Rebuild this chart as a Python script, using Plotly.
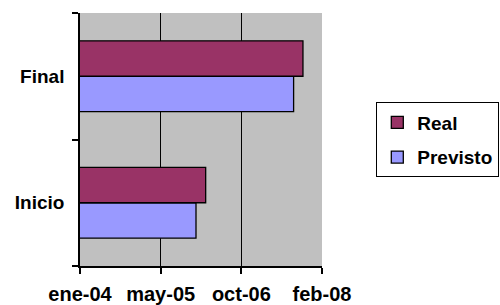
import plotly.graph_objects as go

categories = ["Inicio", "Final"]
real_dates = ["2006-02-27", "2007-10-23"]
previsto_dates = ["2005-12-29", "2007-08-26"]
tick_dates = ["2004-01-10", "2005-05-24", "2006-10-06", "2008-02-18"]
tick_labels = ["ene-04", "may-05", "oct-06", "feb-08"]

FONT = dict(family="Liberation Sans, Arial, sans-serif", size=19, color="black", weight="bold")
FONT_WIDE = dict(family="Liberation Sans, Arial, sans-serif", size=20, color="black", weight="bold")

fig = go.Figure()
fig.add_trace(go.Bar(
    y=categories, x=previsto_dates, orientation="h", name="Previsto",
    marker=dict(color="#9999FF", line=dict(color="black", width=1.3)),
    legendgroup="p", legendrank=2,
))
fig.add_trace(go.Bar(
    y=categories, x=real_dates, orientation="h", name="Real",
    marker=dict(color="#993366", line=dict(color="black", width=1.3)),
    legendgroup="r", legendrank=1,
))

fig.update_layout(
    width=500, height=305,
    margin=dict(l=80, r=178, t=13, b=39, autoexpand=False),
    paper_bgcolor="white",
    plot_bgcolor="#C0C0C0",
    barmode="group",
    bargap=0.44,
    bargroupgap=0,
    font=FONT,
    showlegend=True,
    legend=dict(
        xref="container", yref="container",
        x=0.752, xanchor="left", y=0.665, yanchor="top",
        bordercolor="black", borderwidth=1.3, bgcolor="white",
        traceorder="grouped", tracegroupgap=7,
        entrywidth=125,
        font=FONT,
    ),
    xaxis=dict(
        type="date",
        range=[tick_dates[0], tick_dates[-1]],
        tickmode="array", tickvals=tick_dates, ticktext=tick_labels,
        showgrid=True, gridcolor="black", gridwidth=1,
        showline=True, linecolor="black", linewidth=1.5,
        ticks="outside", ticklen=6, tickcolor="black", tickwidth=1.5,
        ticklabelstandoff=3,
        zeroline=False, tickfont=FONT_WIDE, automargin=False,
    ),
    yaxis=dict(
        type="category",
        categoryorder="array", categoryarray=categories,
        showgrid=False,
        showline=True, linecolor="black", linewidth=1.5,
        ticks="outside", ticklen=6, tickcolor="black", tickwidth=1.5,
        tickson="boundaries",
        ticklabelstandoff=10,
        tickfont=FONT, automargin=False,
    ),
)

fig.write_html("out.html", config={"displayModeBar": False},
               post_script="document.body.style.margin='0';")
